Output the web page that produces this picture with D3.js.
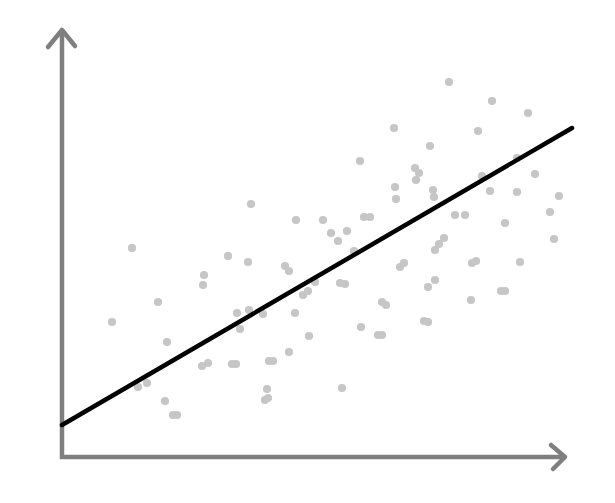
<!DOCTYPE html>
<html>
<head>
<meta charset="utf-8">
<script src="https://cdn.jsdelivr.net/npm/d3@7"></script>
<style>
  html, body { margin: 0; padding: 0; background: #fff; }
</style>
</head>
<body>
<div id="chart"></div>
<script>
// scatter values (arbitrary units)
var xs = [70, 166, 186, 142, 141, 96, 50, 175, 187, 201, 178, 105,
  140, 146, 170, 174, 207, 211, 76, 85, 103, 111, 115, 205, 203, 206,
  298, 353, 357, 354, 333, 334, 371, 372, 234, 261, 302, 308, 269, 285,
  276, 292, 382, 373, 377, 223, 227, 338, 342, 278, 283, 253, 241, 246,
  366, 373, 320, 324, 233, 362, 366, 299, 316, 320, 247, 227, 280,
  387, 430, 466, 416, 332, 368, 455, 420, 473, 428, 455, 497, 393, 403,
  488, 443, 492, 410, 414, 458, 439, 443, 409, 189];
var ys = [209, 201, 195, 182, 172, 155, 135, 144, 147, 143, 128, 115,
  91, 94, 93, 93, 96, 96, 70, 74, 56, 42, 42, 68, 57, 59,
  296, 289, 284, 277, 270, 258, 267, 260, 237, 237, 240, 240, 224, 226,
  216, 206, 219, 207, 213, 191, 186, 190, 194, 174, 173, 175, 162, 166,
  170, 177, 155, 152, 144, 136, 135, 130, 122, 122, 121, 105, 69,
  375, 356, 344, 326, 329, 311, 299, 281, 283, 266, 265, 261, 242, 242,
  245, 234, 218, 194, 196, 195, 166, 166, 157, 253];
// fitted line end points
var lineX = [0, 510];
var lineY = [32, 329];
var xMax = 503, yMax = 427;

var width = 615, height = 503;
var svg = d3.select("#chart").append("svg")
  .attr("width", width)
  .attr("height", height);

var x = d3.scaleLinear().domain([0, xMax]).range([62, 565]);
var y = d3.scaleLinear().domain([0, yMax]).range([457, 30]);

var dots = svg.append("g").attr("class", "dots");
dots.selectAll("circle")
  .data(d3.range(xs.length))
  .enter().append("circle")
  .attr("cx", function(i){return x(xs[i])})
  .attr("cy", function(i){return y(ys[i])})
  .attr("r", 4.1)
  .attr("fill", "#c6c6c6");

// axes with arrow heads
var axisCol = "#7f7f7f";
var ax = svg.append("g")
  .attr("fill", "none")
  .attr("stroke", axisCol)
  .attr("stroke-width", 4.5)
  .attr("stroke-linecap", "round")
  .attr("stroke-linejoin", "round");

ax.append("path")
  .attr("d", "M" + x(0) + "," + y(yMax) + "L" + x(0) + "," + y(0) + "L" + x(xMax) + "," + y(0))
  .attr("stroke-linecap", "butt")
  .attr("stroke-linejoin", "miter");
ax.append("path")
  .attr("d", "M" + (x(0) - 14) + "," + (y(yMax) + 17) + "L" + x(0) + "," + y(yMax) + "L" + (x(0) + 13) + "," + (y(yMax) + 16));
ax.append("path")
  .attr("d", "M" + (x(xMax) - 14) + "," + (y(0) - 12) + "L" + x(xMax) + "," + y(0) + "L" + (x(xMax) - 12) + "," + (y(0) + 12));

svg.append("line")
  .attr("x1", x(lineX[0])).attr("y1", y(lineY[0]))
  .attr("x2", x(lineX[1])).attr("y2", y(lineY[1]))
  .attr("stroke", "#000")
  .attr("stroke-width", 4.5)
  .attr("stroke-linecap", "round");
</script>
</body>
</html>
